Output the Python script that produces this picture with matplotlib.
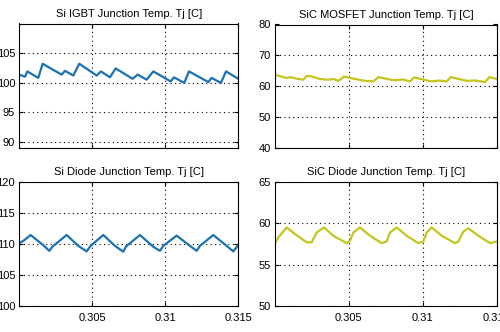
import matplotlib
matplotlib.use("Agg")
import matplotlib.pyplot as plt

plt.rcParams['font.family'] = ['Liberation Sans', 'DejaVu Sans']

# ---- data ----
igbt_t = [0.30000, 0.30039, 0.30055, 0.30130, 0.30160, 0.30187, 0.30290, 0.30313,
          0.30370, 0.30411, 0.30530, 0.30559, 0.30621, 0.30660, 0.30776, 0.30811,
          0.30872, 0.30918, 0.31037, 0.31059, 0.31130, 0.31162, 0.31295, 0.31317,
          0.31381, 0.31416, 0.31500]
igbt_T = [101.36, 101.0, 101.9, 100.8, 103.2, 102.8, 101.36, 102.0,
          101.2, 103.2, 101.2, 101.9, 100.9, 102.4, 100.65, 101.36,
          100.5, 101.9, 100.2, 100.9, 99.95, 101.9, 100.1, 100.8,
          99.95, 101.9, 100.65]

mos_px = [75, 110, 122, 140, 160, 170, 185, 210, 235, 250, 265, 282, 315, 345, 370,
          385, 430, 460, 480, 492, 520, 545, 568, 590, 602, 650, 675, 705, 718, 740]
mos_T = [63.76, 62.7, 63.0, 62.5, 62.15, 63.4, 63.2, 62.4, 62.15, 62.4, 61.8, 63.2,
         62.4, 61.8, 61.6, 63.0, 62.0, 62.2, 61.6, 62.9, 62.2, 61.6, 61.9, 61.6,
         63.0, 61.8, 61.9, 61.4, 63.0, 62.4]
mos_t = [0.300 + (p - 75) * 0.015 / 665 for p in mos_px]

sid_px = [58, 70, 92, 130, 148, 158, 200, 235, 260, 272, 310, 345, 370, 378, 420,
          460, 480, 490, 530, 570, 590, 600, 640, 680, 700, 715]
sid_T = [110.16, 110.5, 111.45, 109.8, 108.9, 109.6, 111.45, 109.7, 108.8, 109.7,
         111.45, 109.7, 108.75, 109.6, 111.45, 109.55, 108.9, 109.7, 111.35, 109.7,
         108.9, 109.7, 111.45, 109.7, 108.8, 109.85]
sid_t = [0.300 + (p - 58) * 0.015 / 657 for p in sid_px]

scd_px = [75, 85, 110, 135, 170, 185, 200, 222, 250, 290, 300, 310, 330, 360, 395,
          410, 420, 440, 470, 505, 520, 530, 545, 575, 615, 625, 640, 655, 685, 720, 740]
scd_T = [57.6, 58.3, 59.5, 58.7, 57.7, 57.7, 58.9, 59.5, 58.5, 57.6, 57.9, 58.9, 59.5,
         58.5, 57.6, 57.8, 58.9, 59.5, 58.5, 57.6, 57.8, 58.9, 59.5, 58.5, 57.6, 57.8,
         59.0, 59.4, 58.5, 57.6, 57.8]
scd_t = [0.300 + (p - 75) * 0.015 / 665 for p in scd_px]

titles = ["Si IGBT Junction Temp. Tj [C]", "SiC MOSFET Junction Temp. Tj [C]",
          "Si Diode Junction Temp. Tj [C]", "SiC Diode Junction Temp. Tj [C]"]
yticks = [[90, 95, 100, 105], [40, 50, 60, 70, 80], [100, 105, 110, 115, 120], [50, 55, 60, 65]]
ylims = [(89, 110), (40, 80), (100, 120), (50, 65)]
xticks = [0.305, 0.31, 0.315]
xticklabels = ["0.305", "0.31", "0.315"]

blue = "#1a72b2"
yellow = "#c6c51e"

W, H = 500, 332
fig = plt.figure(figsize=(5, 3.32), dpi=100)
fig.patch.set_facecolor("white")

def rect(l, r, t, b):
    return [l / W, 1 - b / H, (r - l) / W, (b - t) / H]

boxes = [rect(19.3, 238.3, 23.5, 147.7), rect(275, 496.7, 24.5, 148.3),
         rect(19.3, 238.3, 182, 306), rect(275, 496.7, 182, 306)]
series = [(igbt_t, igbt_T, blue), (mos_t, mos_T, yellow),
          (sid_t, sid_T, blue), (scd_t, scd_T, yellow)]

for i in range(4):
    ax = fig.add_axes(boxes[i])
    t, v, c = series[i]
    ax.plot(t, v, color=c, lw=1.6)
    ax.set_xlim(0.300, 0.315)
    ax.set_ylim(*ylims[i])
    ax.set_yticks(yticks[i])
    ax.set_yticklabels([str(y) for y in yticks[i]])
    ax.set_xticks(xticks)
    if i >= 2:
        ax.set_xticklabels(xticklabels)
    else:
        ax.set_xticklabels([])
    ax.grid(True, color="black", linestyle=(0, (1, 3)), linewidth=0.8)
    ax.tick_params(direction="in", length=3, width=0.8, top=True, right=True,
                   labelsize=8, colors="black")
    ax.tick_params(axis="y", pad=3)
    ax.tick_params(axis="x", pad=5)
    for s in ax.spines.values():
        s.set_linewidth(0.8)
        s.set_color("black")
    ax.set_title(titles[i], fontsize=8, pad=5 if i < 2 else 5)

fig.savefig("out.png", dpi=100, facecolor="white")
